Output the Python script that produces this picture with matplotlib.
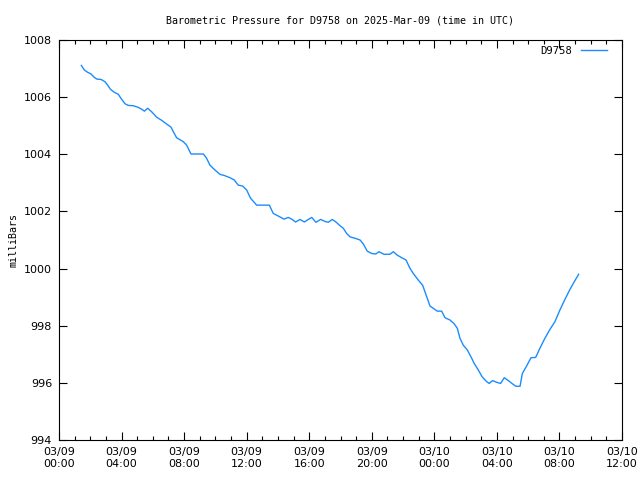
"""Barometric pressure for station D9758, gnuplot-style line chart."""

import matplotlib
matplotlib.use("Agg")
import matplotlib.pyplot as plt
import matplotlib.dates as mdates
import pandas as pd

START = pd.Timestamp("2025-03-09 00:00")

# hours after 03/09 00:00 UTC
hours = [
    1.43, 1.62, 1.83, 2.05, 2.26, 2.43, 2.69, 2.94, 3.11, 3.30, 3.54, 3.79,
    4.01, 4.22, 4.43, 4.75, 5.07, 5.28, 5.46, 5.67, 5.92, 6.24, 6.56, 6.88,
    7.16, 7.37, 7.52, 7.80, 7.95, 8.16, 8.44, 9.23, 9.44, 9.65, 9.97, 10.29,
    10.61, 10.93, 11.21, 11.46, 11.74, 12.00, 12.25, 12.64, 13.45, 13.70,
    14.02, 14.39, 14.66, 14.88, 15.13, 15.41, 15.69, 15.94, 16.16, 16.43,
    16.73, 17.01, 17.22, 17.47, 17.71, 17.97, 18.18, 18.39, 18.61, 18.93,
    19.25, 19.46, 19.71, 19.99, 20.25, 20.46, 20.78, 21.16, 21.38, 21.63,
    21.91, 22.19, 22.44, 22.65, 22.97, 23.25, 23.51, 23.72, 23.93, 24.19,
    24.47, 24.68, 25.00, 25.25, 25.47, 25.64, 25.85, 26.11, 26.39, 26.53,
    26.81, 27.06, 27.35, 27.51, 27.73, 27.98, 28.24, 28.47, 28.73, 29.01,
    29.22, 29.48, 29.63, 29.90, 30.18, 30.48, 30.75, 31.07, 31.39, 31.71,
    32.03, 32.35, 32.67, 32.99, 33.23,
]
pressure = [
    1007.11, 1006.95, 1006.87, 1006.81, 1006.69, 1006.63, 1006.62, 1006.54,
    1006.42, 1006.27, 1006.17, 1006.10, 1005.92, 1005.77, 1005.71, 1005.70,
    1005.64, 1005.58, 1005.51, 1005.61, 1005.49, 1005.30, 1005.19, 1005.06,
    1004.95, 1004.73, 1004.58, 1004.49, 1004.44, 1004.32, 1004.01, 1004.01,
    1003.86, 1003.62, 1003.45, 1003.30, 1003.25, 1003.18, 1003.10, 1002.92,
    1002.89, 1002.75, 1002.46, 1002.22, 1002.22, 1001.93, 1001.84, 1001.73,
    1001.79, 1001.73, 1001.63, 1001.72, 1001.63, 1001.72, 1001.79, 1001.62,
    1001.72, 1001.65, 1001.62, 1001.72, 1001.63, 1001.50, 1001.41, 1001.23,
    1001.11, 1001.06, 1001.00, 1000.86, 1000.61, 1000.53, 1000.51, 1000.59,
    1000.50, 1000.50, 1000.59, 1000.47, 1000.38, 1000.30, 1000.01, 999.83,
    999.60, 999.42, 999.02, 998.69, 998.61, 998.51, 998.51, 998.28, 998.20,
    998.08, 997.91, 997.56, 997.32, 997.15, 996.86, 996.70, 996.45, 996.21,
    996.04, 995.98, 996.08, 996.02, 995.98, 996.18, 996.08, 995.96, 995.88,
    995.88, 996.33, 996.59, 996.88, 996.89, 997.21, 997.56, 997.87, 998.14,
    998.55, 998.92, 999.27, 999.58, 999.80,
]

times = START + pd.to_timedelta(hours, unit="h")

fig = plt.figure(figsize=(6.4, 4.8), dpi=100)
ax = fig.add_axes([59 / 640, 40 / 480, 563 / 640, 400 / 480])

ax.plot(times, pressure, color="#1a8cff", lw=1.0, label="D9758")

ax.set_xlim(START, START + pd.Timedelta(hours=36))
ax.set_ylim(994, 1008)
ax.set_yticks(range(994, 1009, 2))
ax.xaxis.set_major_locator(mdates.HourLocator(byhour=range(0, 24, 4)))
ax.xaxis.set_minor_locator(mdates.HourLocator())
ax.xaxis.set_major_formatter(mdates.DateFormatter("%m/%d\n%H:%M"))

ax.tick_params(which="both", direction="in", top=True, right=True,
               labelsize=8, width=0.8, pad=5)
ax.tick_params(which="major", length=6)
ax.tick_params(which="minor", length=3)
for s in ax.spines.values():
    s.set_linewidth(0.8)

mono = "DejaVu Sans Mono"
ax.set_title("Barometric Pressure for D9758 on 2025-Mar-09 (time in UTC)",
             family=mono, fontsize=7.2, pad=12)
ax.set_ylabel("milliBars", family=mono, fontsize=7.2, labelpad=4)

leg = ax.legend(loc="upper right", bbox_to_anchor=(0.987, 1.004),
                frameon=False, markerfirst=False,
                prop={"family": mono, "size": 7.6}, handlelength=2.5,
                borderaxespad=0.3)

fig.savefig("out.png", dpi=100)
